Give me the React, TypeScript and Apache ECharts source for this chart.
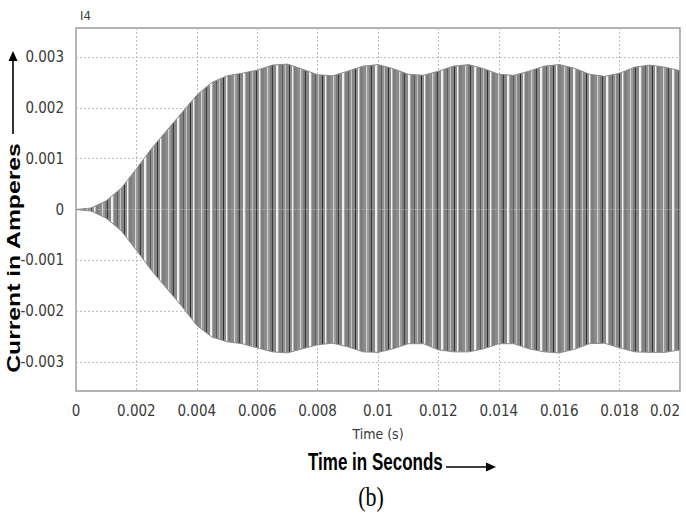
import React, { useEffect, useRef } from "react";
import * as echarts from "echarts";

const timeS = [
  0, 0.0005, 0.001, 0.0015, 0.002, 0.0025, 0.003, 0.0035, 0.004, 0.0045,
  0.005, 0.0055, 0.006, 0.0065, 0.007, 0.0075, 0.008, 0.0085, 0.009, 0.0095,
  0.01, 0.0105, 0.011, 0.0115, 0.012, 0.0125, 0.013, 0.0135, 0.014, 0.0145,
  0.015, 0.0155, 0.016, 0.0165, 0.017, 0.0175, 0.018, 0.0185, 0.019, 0.0195,
  0.02,
];
// positive peaks of I4 (A)
const upperPeakA = [
  0, 0.00003, 0.00017, 0.00042, 0.0008, 0.0012, 0.00155, 0.0019, 0.00225, 0.0025,
  0.00263, 0.00268, 0.00274, 0.00284, 0.00286, 0.00276, 0.00265, 0.00263, 0.00272, 0.00282,
  0.00285, 0.00277, 0.00266, 0.00264, 0.00272, 0.00282, 0.00285, 0.00277, 0.00266, 0.00264,
  0.00272, 0.00282, 0.00285, 0.00278, 0.00266, 0.00262, 0.00268, 0.0028, 0.00284, 0.0028,
  0.00273,
];
// negative peaks of I4 (A)
const lowerPeakA = [
  0, -0.00003, -0.00017, -0.00042, -0.0008, -0.0012, -0.00155, -0.0019, -0.00228, -0.00251,
  -0.0026, -0.00264, -0.00272, -0.0028, -0.00282, -0.00274, -0.00266, -0.00263, -0.0027, -0.0028,
  -0.00281, -0.00274, -0.00264, -0.00264, -0.00276, -0.0028, -0.0028, -0.00274, -0.00264, -0.00264,
  -0.00274, -0.0028, -0.00282, -0.00275, -0.00264, -0.00263, -0.00272, -0.0028, -0.00281, -0.00281,
  -0.00276,
];
const yTickValues = [-0.003, -0.002, -0.001, 0, 0.001, 0.002, 0.003];
const xMin = 0;
const xMax = 0.02;
const xStep = 0.002;
const yLimit = 0.00357;

const NARROW = "'Liberation Sans Narrow', 'Arial Narrow', 'DejaVu Sans Condensed', sans-serif";
const BOLD = "'Liberation Sans', Arial, sans-serif";

function stripePattern() {
  // [colour, width in px] runs of the vertical streak texture
  const runs: [string, number][] = [
    ["#8c8c8c", 3], ["#d6d6d6", 1], ["#9a9a9a", 2], ["#7a7a7a", 2], ["#3a3a3a", 1],
    ["#888888", 3], ["#f0f0f0", 2], ["#a6a6a6", 1], ["#828282", 3], ["#5a5a5a", 1],
    ["#909090", 2], ["#c4c4c4", 1], ["#868686", 3], ["#2e2e2e", 1], ["#8e8e8e", 2],
    ["#f4f4f4", 1], ["#b0b0b0", 1], ["#7e7e7e", 3],
  ];
  const total = runs.reduce((s, r) => s + r[1], 0);
  const c = document.createElement("canvas");
  c.width = total;
  c.height = 4;
  const ctx = c.getContext("2d")!;
  let x = 0;
  runs.forEach(([col, w]) => {
    ctx.fillStyle = col;
    ctx.fillRect(x, 0, w, 4);
    x += w;
  });
  return { image: c, repeat: "repeat", imageWidth: total, imageHeight: 4 } as any;
}

export default function App() {
  const ref = useRef<HTMLDivElement>(null);
  useEffect(() => {
    if (!ref.current) return;
    const chart = echarts.init(ref.current, null, { renderer: "svg" });
    const pattern = stripePattern();
    const upper = timeS.map((t, i) => [t, upperPeakA[i]]);
    const lower = timeS.map((t, i) => [t, lowerPeakA[i]]);
    const option: any = {
      animation: false,
      backgroundColor: "#ffffff",
      grid: {
        left: 76,
        right: 6,
        top: 28,
        bottom: 122,
        show: true,
        borderColor: "#9a9a9a",
        borderWidth: 1.5,
        backgroundColor: "#ffffff",
      },
      xAxis: {
        type: "value",
        min: xMin,
        max: xMax,
        interval: xStep,
        axisLine: { show: false },
        axisTick: { show: false },
        splitLine: { show: true, lineStyle: { color: "#bdbdbd", type: [2, 2], width: 1 } },
        axisLabel: {
          margin: 12,
          color: "#3a3a3a",
          fontFamily: NARROW,
          fontSize: 15,
          alignMaxLabel: "right",
        },
      },
      yAxis: {
        type: "value",
        min: -yLimit,
        max: yLimit,
        axisLine: { show: false },
        axisTick: { show: false, customValues: yTickValues },
        splitLine: { show: true, lineStyle: { color: "#bdbdbd", type: [2, 2], width: 1 } },
        axisLabel: {
          customValues: yTickValues,
          margin: 12,
          color: "#3a3a3a",
          fontFamily: NARROW,
          fontSize: 15,
          formatter: (v: number) => String(Number(v.toFixed(4))),
        },
      },
      series: [
        {
          type: "line",
          name: "I4 +",
          data: upper,
          showSymbol: false,
          lineStyle: { color: "#8a8a8a", width: 1 },
          areaStyle: { color: pattern, opacity: 1, origin: 0 },
        },
        {
          type: "line",
          name: "I4 -",
          data: lower,
          showSymbol: false,
          lineStyle: { color: "#8a8a8a", width: 1 },
          areaStyle: { color: pattern, opacity: 1, origin: 0 },
        },
      ],
      graphic: [
        {
          type: "text",
          left: 80,
          top: 9,
          style: { text: "I4", fontFamily: NARROW, fontSize: 13, fill: "#3a3a3a" },
        },
        {
          type: "text",
          x: 378,
          y: 434,
          style: {
            text: "Time (s)",
            fontFamily: NARROW,
            fontSize: 14,
            fill: "#3a3a3a",
            align: "center",
            verticalAlign: "middle",
          },
        },
        {
          type: "text",
          x: 308,
          y: 473,
          scaleY: 1.4,
          style: {
            text: "Time in Seconds",
            fontFamily: BOLD,
            fontWeight: "bold",
            fontSize: 17,
            fill: "#000000",
            align: "left",
            verticalAlign: "bottom",
          },
        },
        {
          type: "line",
          shape: { x1: 446, y1: 467, x2: 490, y2: 467 },
          style: { stroke: "#000", lineWidth: 1.6 },
        },
        {
          type: "polygon",
          shape: { points: [[496, 467], [486, 462.5], [486, 471.5]] },
          style: { fill: "#000" },
        },
        {
          type: "text",
          x: 14,
          y: 258,
          rotation: Math.PI / 2,
          scaleX: 1.3,
          style: {
            text: "Current in Amperes",
            fontFamily: BOLD,
            fontWeight: "bold",
            fontSize: 19,
            fill: "#000000",
            align: "center",
            verticalAlign: "middle",
          },
        },
        {
          type: "line",
          shape: { x1: 13, y1: 134, x2: 13, y2: 58 },
          style: { stroke: "#000", lineWidth: 1.6 },
        },
        {
          type: "polygon",
          shape: { points: [[13, 51], [8.5, 61], [17.5, 61]] },
          style: { fill: "#000" },
        },
        {
          type: "text",
          x: 371,
          y: 497,
          scaleY: 1.2,
          style: {
            text: "(b)",
            fontFamily: "'Liberation Serif', 'Times New Roman', serif",
            fontSize: 22,
            fill: "#000000",
            align: "center",
            verticalAlign: "middle",
          },
        },
      ],
    };
    chart.setOption(option);
    return () => chart.dispose();
  }, []);
  return (
    <div
      ref={ref}
      style={{ position: "fixed", left: 0, top: 0, width: 686, height: 513, background: "#fff" }}
    />
  );
}
